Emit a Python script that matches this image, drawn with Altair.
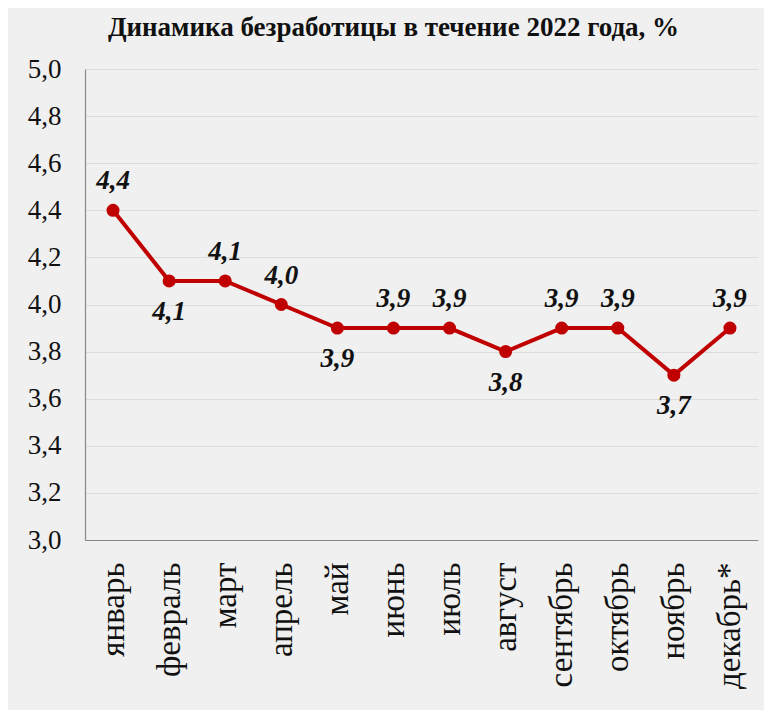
import altair as alt
import pandas as pd

months = ["январь", "февраль", "март", "апрель", "май", "июнь", "июль",
          "август", "сентябрь", "октябрь", "ноябрь", "декабрь*"]
values = [4.4, 4.1, 4.1, 4.0, 3.9, 3.9, 3.9, 3.8, 3.9, 3.9, 3.7, 3.9]
label_side = ["above", "below", "above", "above", "below", "above", "above",
              "below", "above", "above", "below", "above"]

df = pd.DataFrame({
    "month": months,
    "value": values,
    "side": label_side,
    "label": [f"{v:.1f}".replace(".", ",") for v in values],
})

FONT = "Liberation Serif"
RED = "#c00000"

x = alt.X("month:N", sort=months, title=None,
          scale=alt.Scale(paddingInner=0, paddingOuter=0),
          axis=alt.Axis(labelAngle=-90, labelFont=FONT, labelFontSize=33,
                        labelColor="#111", labelPadding=22, ticks=False,
                        domainColor="#888", domainWidth=1.2, grid=False,
                        labelLimit=0))
y = alt.Y("value:Q", title=None,
          scale=alt.Scale(domain=[3.0, 5.0], nice=False, zero=False),
          axis=alt.Axis(values=[3.0, 3.2, 3.4, 3.6, 3.8, 4.0, 4.2, 4.4, 4.6, 4.8, 5.0],
                        labelExpr="replace(format(datum.value, '.1f'), '.', ',')",
                        labelFont=FONT, labelFontSize=27, labelColor="#111",
                        labelPadding=24, ticks=False, domainColor="#888",
                        domainWidth=1.2, gridColor="#dcdcdc", gridWidth=1))

base = alt.Chart(df)
line = base.mark_line(color=RED, strokeWidth=4).encode(x=x, y=y)
pts = base.mark_point(filled=True, color=RED, opacity=1, size=170).encode(x=x, y=y)
above = base.transform_filter("datum.side == 'above'").mark_text(
    font=FONT, fontSize=27, fontWeight="bold", fontStyle="italic",
    color="#111", dy=-29, baseline="middle").encode(x=x, y=y, text="label:N")
below = base.transform_filter("datum.side == 'below'").mark_text(
    font=FONT, fontSize=27, fontWeight="bold", fontStyle="italic",
    color="#111", dy=31, baseline="middle").encode(x=x, y=y, text="label:N")

chart = alt.layer(line, pts, above, below).properties(
    width=673, height=471,
    title=alt.TitleParams("Динамика безработицы в течение 2022 года, %",
                          font=FONT, fontSize=27, fontWeight="bold",
                          color="#111", anchor="middle", offset=13, dx=-28),
    autosize=alt.AutoSizeParams(type="none"),
    padding={"left": 77, "top": 61, "right": 6, "bottom": 170},
    background="#f0f0f0",
).configure_view(stroke=None)

chart.save("out.html", embed_options={"renderer": "svg", "actions": False})
